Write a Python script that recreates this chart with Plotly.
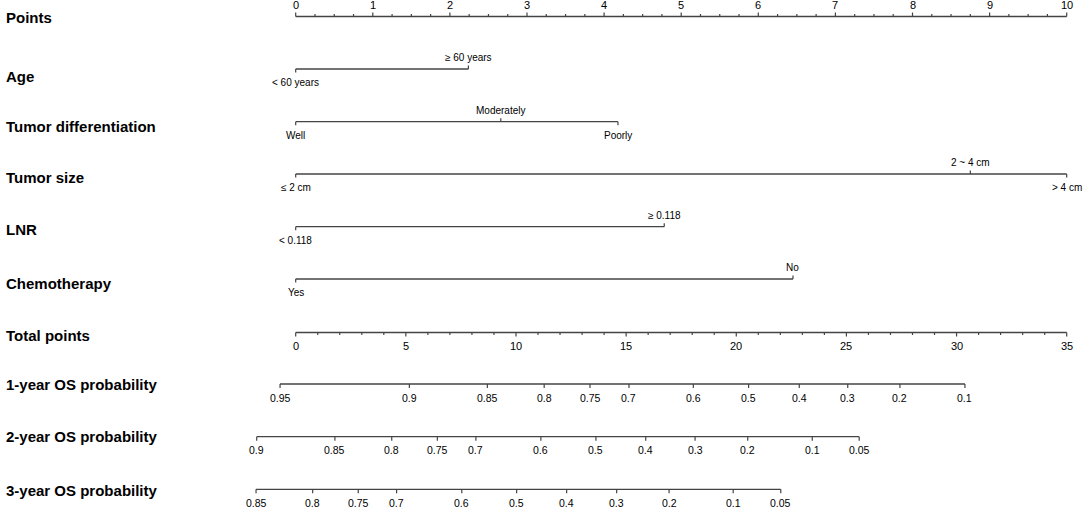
import plotly.graph_objects as go

# ---- data ----
rows = ["Points", "Age", "Tumor differentiation", "Tumor size", "LNR", "Chemotherapy",
        "Total points", "1-year OS probability", "2-year OS probability", "3-year OS probability"]

points_ticks = list(range(0, 11))

age_levels = ["< 60 years", "\u2265 60 years"]
age_points = [0, 2.24]

diff_levels = ["Well", "Moderately", "Poorly"]
diff_points = [0, 2.66, 4.18]

size_levels = ["\u2264 2 cm", "2 ~ 4 cm", "> 4 cm"]
size_points = [0, 8.75, 10]

lnr_levels = ["< 0.118", "\u2265 0.118"]
lnr_points = [0, 4.78]

chemo_levels = ["Yes", "No"]
chemo_points = [0, 6.45]

total_ticks = list(range(0, 36, 5))
total_max = 35

os1_labels = ["0.95", "0.9", "0.85", "0.8", "0.75", "0.7", "0.6", "0.5", "0.4", "0.3", "0.2", "0.1"]
os1_total = [-0.71, 5.16, 8.70, 11.28, 13.36, 15.13, 18.05, 20.56, 22.86, 25.06, 27.43, 30.38]

os2_labels = ["0.9", "0.85", "0.8", "0.75", "0.7", "0.6", "0.5", "0.4", "0.3", "0.2", "0.1", "0.05"]
os2_total = [-1.77, 1.78, 4.36, 6.43, 8.18, 11.13, 13.63, 15.89, 18.13, 20.52, 23.45, 25.58]

os3_labels = ["0.85", "0.8", "0.75", "0.7", "0.6", "0.5", "0.4", "0.3", "0.2", "0.1", "0.05"]
os3_total = [-1.80, 0.77, 2.84, 4.58, 7.54, 10.03, 12.30, 14.57, 16.95, 19.86, 22.02]

# ---- layout helpers (pixel rows, y axis runs top->bottom) ----
W, H = 1084, 508
x0_px, px_per_pt = 295.7, 77.1
row_y = [16.5, 69, 121.7, 174, 226.7, 279, 332.5, 384, 436.7, 489.3]
title_y = [17, 76, 126, 177, 229, 283, 335, 384, 436, 490]
LINE = "#444444"
FONT = "Liberation Sans, Arial, sans-serif"

def tp2pt(v):
    return v * 10.0 / total_max

fig = go.Figure()
annots = []

def add_line(xs, y, width=1.3):
    fig.add_trace(go.Scatter(x=[min(xs), max(xs)], y=[y, y], mode="lines",
                             line=dict(color=LINE, width=width), hoverinfo="skip"))

def add_ticks(xs, y0, y1, width=1.2):
    tx, ty = [], []
    for x in xs:
        tx += [x, x, None]
        ty += [y0, y1, None]
    fig.add_trace(go.Scatter(x=tx, y=ty, mode="lines",
                             line=dict(color=LINE, width=width), hoverinfo="skip"))

def label(x, y, text, size=10.5):
    annots.append(dict(x=x, y=y, xref="x", yref="y", text=text, showarrow=False,
                       font=dict(size=size, color="black", family=FONT),
                       xanchor="center", yanchor="middle"))

# Points axis
y = row_y[0]
add_line(points_ticks, y)
add_ticks(points_ticks, y, y - 4)
minor = [i / 4 for i in range(0, 41) if i % 4]
add_ticks(minor, y, y - 2.5)
for p in points_ticks:
    label(p, 5, str(p), 11)

# Variable rows
variables = [
    (age_levels, age_points, ["b", "a"]),
    (diff_levels, diff_points, ["b", "a", "b"]),
    (size_levels, size_points, ["b", "a", "b"]),
    (lnr_levels, lnr_points, ["b", "a"]),
    (chemo_levels, chemo_points, ["b", "a"]),
]
for k, (levels, pts, sides) in enumerate(variables):
    y = row_y[k + 1]
    add_line(pts, y)
    for lev, p, s in zip(levels, pts, sides):
        if s == "a":
            add_ticks([p], y, y - 3.5)
            label(p, y - 11.5, lev, 10)
        else:
            add_ticks([p], y, y + 3.5)
            label(p, y + 13.5, lev, 10)

# Total points
y = row_y[6]
add_line([tp2pt(0), tp2pt(total_max)], y)
add_ticks([tp2pt(t) for t in total_ticks], y, y + 4)
add_ticks([tp2pt(t) for t in range(0, 36) if t % 5], y, y + 2.5)
for t in total_ticks:
    label(tp2pt(t), y + 13, str(t), 11)

# OS probability axes
for k, (labs, tots) in enumerate([(os1_labels, os1_total), (os2_labels, os2_total), (os3_labels, os3_total)]):
    y = row_y[7 + k]
    xs = [tp2pt(t) for t in tots]
    add_line(xs, y)
    add_ticks(xs, y, y + 4)
    for lab, x in zip(labs, xs):
        label(x, y + 13.5, lab, 10.5)

# Row titles
for name, ty in zip(rows, title_y):
    annots.append(dict(x=4 / W, y=ty, xref="paper", yref="y", text="<b>" + name + "</b>", showarrow=False,
                       font=dict(size=15, color="black", family=FONT),
                       xanchor="left", yanchor="middle"))

fig.update_layout(
    width=W, height=H, margin=dict(l=0, r=0, t=0, b=0),
    paper_bgcolor="white", plot_bgcolor="white", showlegend=False,
    annotations=annots,
    xaxis=dict(range=[-x0_px / px_per_pt, (W - x0_px) / px_per_pt], visible=False, fixedrange=True),
    yaxis=dict(range=[H, 0], visible=False, fixedrange=True),
)
fig.write_html("out.html", config={"displayModeBar": False},
               post_script="document.body.style.margin='0';document.body.style.overflow='hidden';")
